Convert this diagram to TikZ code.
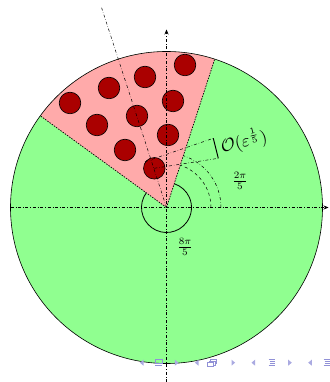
\documentclass[tikz,border=0pt]{standalone}
\usepackage{amsmath}
\usetikzlibrary{arrows.meta}
\definecolor{bggreen}{RGB}{144,255,144}
\definecolor{sectorpink}{RGB}{255,170,170}
\definecolor{particlered}{RGB}{170,0,0}
\definecolor{navcol}{RGB}{170,170,225}
\definecolor{navdark}{RGB}{145,145,215}
\begin{document}
\begin{tikzpicture}[x=1pt,y=1pt,
  axisline/.style={dash dot, line width=0.5pt},
  sectorline/.style={dash pattern=on 1.5pt off 1.2pt, line width=0.7pt},
  particle/.style={circle, draw=black, line width=0.6pt, fill=particlered, minimum size=21.6pt, inner sep=0pt},
  fraclabel/.style={scale=1.4, inner sep=0pt},
  navtri/.style={fill=navcol, draw=none},
  navicon/.style={draw=navdark, line width=0.5pt}]
\useasboundingbox (0,0) rectangle (329,382);
\begin{scope}[shift={(166.5,174.5)}]
  \coordinate (O) at (0,0);
  \fill[bggreen] (O) circle (156);
  \fill[sectorpink] (O) -- (72:156) arc[start angle=72,end angle=144,radius=156] -- cycle;
  \draw[line width=0.6pt] (O) circle (156);
  \draw[sectorline] (O) -- (72:156);
  \draw[sectorline] (O) -- (144:156);
  % particles
  \node[particle] (p1) at (18.5,142.5) {};
  \node[particle] (p2) at (-21.5,130.5) {};
  \node[particle] (p3) at (-57.5,119.5) {};
  \node[particle] (p4) at (-96.5,104.5) {};
  \node[particle] (p5) at (6.5,106.5) {};
  \node[particle] (p6) at (-29.5,91.5) {};
  \node[particle] (p7) at (-69.5,82.5) {};
  \node[particle] (p8) at (1.5,72.5) {};
  \node[particle] (p9) at (-41.5,57.5) {};
  \node[particle] (p10) at (-12.2,39.2) {};
  % axes
  \coordinate (bis) at (108:210);
  \draw[axisline] (O) -- (bis);
  \coordinate (xl) at (-156,0);
  \coordinate (xr) at (162,0);
  \coordinate (yb) at (0,-182);
  \coordinate (yt) at (0,178);
  \draw[axisline,-{Stealth[length=5pt,width=4pt]}] (xl) -- (xr);
  \draw[axisline,-{Stealth[length=5pt,width=4pt]}] (yb) -- (yt);
  % angle arcs
  \draw[dashed, line width=0.5pt] (44.5,0) arc[start angle=0,end angle=72,radius=44.5];
  \draw[dash dot, line width=0.5pt] (54.5,0) arc[start angle=0,end angle=72,radius=54.5];
  \draw[line width=0.8pt] (144:25) arc[start angle=144,end angle=432,radius=25];
  % size marker
  \coordinate (u1) at (-21.5,45.8);
  \coordinate (u2) at (46.8,69.2);
  \coordinate (l2) at (51.8,49.2);
  \draw[dash dot, line width=0.5pt] (u1) -- (u2);
  \draw[dash dot, line width=0.5pt] (p10.center) -- (l2);
  \draw[line width=1pt] (u2) -- (l2);
  \node[rotate=14, scale=1.75, anchor=west, inner sep=0pt] (eps) at (54,60.5) {$\mathcal{O}(\varepsilon^{\frac{1}{5}})$};
  \node[fraclabel] (a1) at (73.5,26.5) {$\frac{2\pi}{5}$};
  \node[fraclabel] (a2) at (18.5,-39.5) {$\frac{8\pi}{5}$};
\end{scope}
% beamer navigation symbols
\foreach \x in {141.7,196.7,253.3,310} {
  \fill[navtri] (\x+1.8,22.3) -- (\x-1.8,19.3) -- (\x+1.8,16.3) -- cycle;
}
\foreach \x in {176.7,233.3,290} {
  \fill[navtri] (\x-1.8,22.3) -- (\x+1.8,19.3) -- (\x-1.8,16.3) -- cycle;
}
\draw[navicon] (154.8,18.3) rectangle (161.8,22.3);
\draw[navicon] (154.8,16.6) -- (161.8,16.6);
\draw[navicon,fill=white] (210.5,22.5) rectangle (216.5,18.5);
\draw[navicon,fill=white] (209,21) rectangle (215,17);
\draw[navicon,fill=white] (207.5,19.5) rectangle (213.5,15.5);
\foreach \x in {271.7,326.7} {
  \draw[navicon] (\x-3,22.3) -- (\x+3,22.3);
  \draw[navicon] (\x-2,20.3) -- (\x+3,20.3);
  \draw[navicon] (\x-2,18.3) -- (\x+3,18.3);
  \draw[navicon] (\x-3,16.3) -- (\x+3,16.3);
}
\end{tikzpicture}
\end{document}
